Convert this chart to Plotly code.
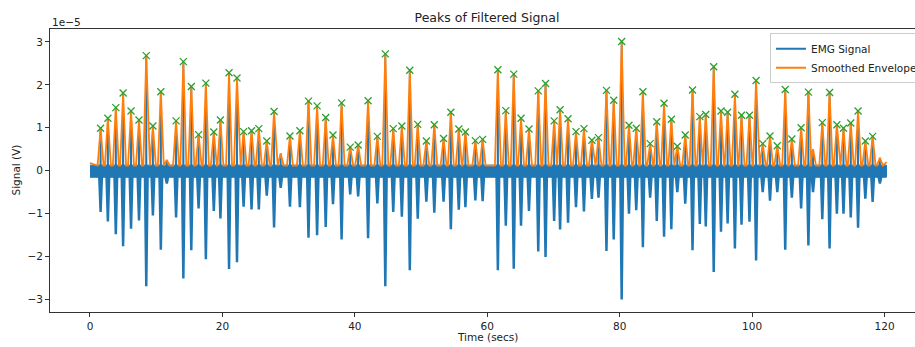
import plotly.graph_objects as go

# ---- data (signal values in units of 1e-5 V) ----
peak_times = [1.6, 2.7, 3.9, 5.0, 6.2, 7.4, 8.5, 9.5, 10.7, 13.0,
              14.1, 15.3, 16.4, 17.5, 18.7, 19.7, 21.0, 22.2, 23.2, 24.4,
              25.5, 26.7, 27.8, 30.2, 31.7, 33.0, 34.3, 35.6, 36.7, 38.0,
              39.3, 40.5, 42.0, 43.4, 44.6, 45.8, 47.1, 48.3, 49.5, 50.8,
              52.0, 53.4, 54.5, 55.7, 56.7, 58.2, 59.3, 61.6, 62.8, 64.0,
              65.1, 66.3, 67.7, 68.8, 70.1, 71.0, 72.2, 73.4, 74.6, 75.8,
              76.8, 78.0, 79.1, 80.3, 81.4, 82.5, 83.5, 84.6, 85.6, 86.7,
              87.8, 88.7, 89.9, 91.0, 92.1, 93.0, 94.2, 95.3, 96.3, 97.4,
              98.4, 99.6, 100.6, 101.6, 102.7, 103.8, 105.0, 106.0, 107.4, 108.5,
              110.6, 111.7, 112.8, 113.8, 114.9, 116.0, 117.1, 118.2]
peak_vals = [0.99, 1.22, 1.47, 1.81, 1.39, 1.18, 2.68, 1.04, 1.84, 1.16,
             2.54, 1.96, 0.84, 2.04, 0.90, 1.18, 2.28, 2.16, 0.91, 0.93,
             0.98, 0.69, 1.38, 0.81, 0.93, 1.62, 1.51, 1.24, 0.83, 1.58,
             0.55, 0.60, 1.63, 0.80, 2.72, 0.98, 1.04, 2.34, 1.08, 0.69,
             1.07, 0.75, 1.36, 0.97, 0.90, 0.70, 0.73, 2.35, 1.40, 2.25,
             1.22, 0.97, 1.86, 2.03, 1.16, 1.42, 1.21, 0.91, 0.98, 0.71,
             0.77, 1.87, 1.64, 3.01, 1.06, 0.99, 1.84, 0.63, 1.14, 1.57,
             1.20, 0.57, 0.83, 1.88, 1.26, 1.31, 2.42, 1.39, 1.36, 1.78,
             1.29, 1.29, 2.10, 0.63, 0.81, 0.58, 1.89, 0.74, 1.00, 1.83,
             1.12, 1.82, 1.07, 0.99, 1.11, 1.39, 0.69, 0.80]
emg_troughs = [-0.96, -1.18, -1.48, -1.76, -1.35, -1.16, -2.69, -1.04, -1.84, -1.09,
               -2.51, -1.85, -0.88, -2.06, -0.94, -1.11, -2.29, -2.13, -0.84, -0.90,
               -0.90, -0.58, -1.32, -0.84, -0.85, -1.56, -1.50, -1.31, -0.78, -1.60,
               -0.55, -0.60, -1.57, -0.76, -2.69, -0.96, -1.07, -2.32, -1.12, -0.72,
               -0.98, -0.72, -1.36, -0.91, -0.85, -0.69, -0.71, -2.32, -1.28, -2.28,
               -1.28, -0.94, -1.88, -2.01, -1.17, -1.37, -1.21, -0.85, -0.95, -0.66,
               -0.63, -1.87, -1.60, -3.00, -1.00, -0.92, -1.78, -0.63, -1.17, -1.54,
               -1.36, -0.50, -0.77, -1.85, -1.24, -1.30, -2.36, -1.42, -1.23, -1.81,
               -1.26, -1.19, -2.09, -0.50, -0.70, -0.50, -1.84, -0.63, -0.88, -1.74,
               -1.13, -1.81, -1.00, -1.00, -1.09, -1.33, -0.65, -0.73]
# small bursts without a detected peak
minor_times = [11.6, 28.8, 109.2, 119.3]
minor_vals = [0.25, 0.40, 0.50, 0.30]
minor_troughs = [-0.30, -0.40, -0.50, -0.30]

signal_span = [0.0, 120.3]
band_limits = [-0.14, 0.13]
env_base = 0.12
env_ends = [0.18, 0.20]

x_ticks = [0, 20, 40, 60, 80, 100, 120]
y_ticks = [-3, -2, -1, 0, 1, 2, 3]

BLUE = "#1f77b4"
ORANGE = "#ff7f0e"
GREEN = "#2ca02c"

bursts = sorted(zip(peak_times + minor_times,
                    peak_vals + minor_vals,
                    emg_troughs + minor_troughs))

# EMG trace: spikes from the noise band
emg_x = [signal_span[0]]
emg_y = [band_limits[0]]
for t, v, tr in bursts:
    emg_x += [t - 0.25, t - 0.05, t, t + 0.05, t + 0.25]
    emg_y += [band_limits[0], tr, v, tr, band_limits[0]]
emg_x.append(signal_span[1])
emg_y.append(band_limits[0])

# smoothed envelope
env_x = [signal_span[0]]
env_y = [env_ends[0]]
for t, v, tr in bursts:
    env_x += [t - 0.45, t, t + 0.45]
    env_y += [env_base, v, env_base]
env_x.append(signal_span[1])
env_y.append(env_ends[1])

fig = go.Figure()

# low-level noise band of the EMG signal
fig.add_trace(go.Scatter(
    x=[signal_span[0], signal_span[1], signal_span[1], signal_span[0]],
    y=[band_limits[1], band_limits[1], band_limits[0], band_limits[0]],
    fill="toself", fillcolor=BLUE, mode="lines",
    line=dict(color=BLUE, width=1), showlegend=False, hoverinfo="skip"))

fig.add_trace(go.Scatter(x=emg_x, y=emg_y, mode="lines", name="EMG Signal",
                         line=dict(color=BLUE, width=1.8)))
fig.add_trace(go.Scatter(x=env_x, y=env_y, mode="lines", name="Smoothed Envelope",
                         line=dict(color=ORANGE, width=1.8)))
fig.add_trace(go.Scatter(x=peak_times, y=peak_vals, mode="markers", showlegend=False,
                         marker=dict(symbol="x-thin", size=7,
                                     line=dict(color=GREEN, width=1.3))))

FONT = "DejaVu Sans"
TXT = "#222222"

fig.update_layout(
    width=915, height=347,
    margin=dict(l=50, r=0, t=29, b=35, autoexpand=False),
    paper_bgcolor="white", plot_bgcolor="white",
    font=dict(family=FONT, size=10.5, color=TXT),
    title=dict(text="Peaks of Filtered Signal", x=487 / 915, xanchor="center",
               y=1 - 17.5 / 347, yanchor="middle",
               font=dict(family=FONT, size=12.5, color=TXT)),
    legend=dict(x=(770 - 50) / 865, y=0.985, xanchor="left", yanchor="top",
                bgcolor="rgba(255,255,255,0.8)", bordercolor="#cccccc", borderwidth=1,
                font=dict(family=FONT, size=10.5, color=TXT),
                tracegroupgap=0, itemwidth=30),
    showlegend=True,
    xaxis=dict(range=[-6.04, 124.6], tickmode="array", tickvals=x_ticks,
               automargin=False,
               showgrid=False, zeroline=False, showline=True, linecolor="#333333",
               linewidth=1, mirror=True, ticks="outside", ticklen=4, tickcolor="#333333",
               tickfont=dict(family=FONT, size=10.5, color=TXT)),
    yaxis=dict(range=[-3.29, 3.30], tickmode="array", tickvals=y_ticks,
               automargin=False,
               showgrid=False, zeroline=False, showline=True, linecolor="#333333",
               linewidth=1, ticks="outside", ticklen=4, tickcolor="#333333",
               tickfont=dict(family=FONT, size=10.5, color=TXT)),
    annotations=[
        dict(text="Time (secs)", xref="paper", yref="paper", x=(487 - 50) / 865,
             y=(312 - 337) / 283, xanchor="center", yanchor="middle", showarrow=False,
             font=dict(family=FONT, size=10.5, color=TXT)),
        dict(text="Signal (V)", xref="paper", yref="paper", x=(15 - 50) / 865,
             y=0.5, xanchor="center", yanchor="middle", textangle=-90, showarrow=False,
             font=dict(family=FONT, size=10.5, color=TXT)),
        dict(text="1e\u22125", xref="paper", yref="paper", x=0, y=1 + (29 - 22) / 283,
             xanchor="left", yanchor="middle", showarrow=False,
             font=dict(family=FONT, size=10.5, color=TXT)),
    ],
)

fig.write_html("out.html", config={"displayModeBar": False},
               post_script="document.body.style.margin='0';document.body.style.padding='0';")
